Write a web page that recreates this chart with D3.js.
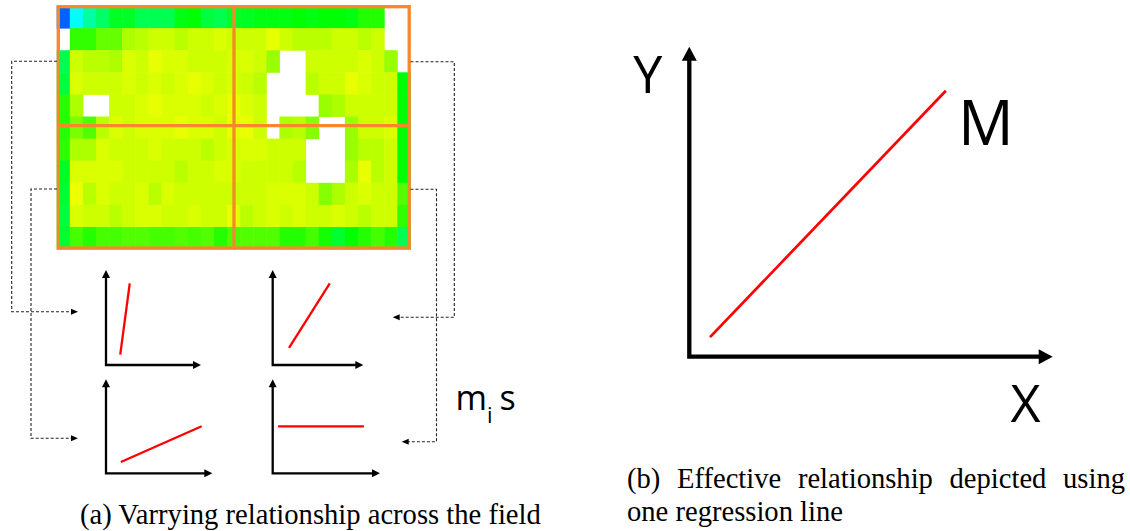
<!DOCTYPE html>
<html>
<head>
<meta charset="utf-8">
<script src="https://cdn.jsdelivr.net/npm/d3@7"></script>
<style>
  body { margin: 0; background: #fff; }
</style>
</head>
<body>
<svg id="fig" width="1130" height="531"></svg>
<script>
// Heatmap of local coefficients, one row per array (null = no data)
var row0  = [0, 2.4, 3.9, 4.8, 5.8, 5.8, 5.1, 5.1, 5.1, 6.1, 6.3, 5.4, 5.1, 5.8, 5.8, 6.1, 6.1, 6.1, 6.3, 6.1, 6.3, 6.3, 6.1, 6.9, 6.9, null, null];
var row1  = [null, 7.1, 7.1, 7.9, 7.9, 9.0, 9.2, 9.5, 9.5, 9.2, 9.5, 9.5, 9.7, 9.5, 9.5, 9.5, 9.9, 9.5, 9.2, 9.2, 9.2, 9.5, 9.5, 9.2, 9.5, null, null];
var row2  = [5.1, 9.5, 9.2, 9.2, 9.0, 9.7, 9.5, 9.9, 9.7, 9.7, 9.5, 9.5, 9.5, 9.7, 9.7, 9.5, 8.7, null, null, 9.5, 9.5, 9.5, 9.5, 9.7, 9.5, 8.7, null];
var row3  = [5.4, 9.7, 9.5, 9.5, 9.5, 9.7, 9.5, 9.7, 9.5, 9.7, 9.9, 9.7, 9.5, 9.7, 9.5, 9.2, null, null, null, 9.2, 9.5, 9.5, 9.9, 9.7, 9.5, 9.5, 6.3];
var row4  = [6.9, 9.0, null, null, 9.5, 9.5, 9.7, 9.9, 9.7, 9.7, 9.7, 9.5, 9.7, 10, 9.7, 9.5, null, null, null, null, 8.7, 9.0, 9.5, 9.5, 9.5, 9.5, 6.3];
var row5  = [6.9, 8.2, 7.6, 9.2, 9.7, 9.5, 9.7, 9.7, 9.7, 9.9, 9.7, 9.7, 9.5, 9.9, 9.9, 9.5, null, 9.0, 9.2, 8.4, null, null, 8.7, 9.5, 9.5, 9.7, 6.3];
var row6  = [7.0, 9.0, 9.0, 9.7, 9.5, 9.5, 9.5, 9.7, 9.5, 9.5, 9.5, 9.2, 9.5, 9.7, 9.7, 9.7, 9.5, 9.5, 9.5, null, null, null, 8.7, 9.2, 9.2, 9.5, 6.3];
var row7  = [5.8, 9.7, 9.7, 9.7, 9.7, 9.5, 9.5, 9.5, 9.5, 9.2, 9.5, 9.5, 9.7, 9.7, 9.5, 9.5, 9.5, 9.5, 9.2, null, null, null, 9.0, 9.9, 9.2, 9.5, 6.3];
var row8  = [5.6, 10, 9.2, 9.7, 9.5, 9.5, 9.7, 9.2, 9.7, 9.5, 9.5, 9.5, 9.5, 9.5, 9.5, 9.5, 9.7, 9.7, 9.7, 9.5, 8.4, 9.0, 9.5, 9.7, 9.5, 9.5, 7.6];
var row9  = [5.4, 9.7, 9.5, 9.5, 9.2, 9.5, 9.7, 9.7, 9.5, 9.5, 9.7, 9.5, 9.5, 9.9, 9.2, 9.5, 9.7, 9.5, 9.7, 9.5, 9.5, 9.7, 9.5, 9.2, 9.5, 9.5, 7.1];
var row10 = [5.6, 7.4, 6.9, 7.4, 7.4, 7.6, 7.6, 7.4, 7.4, 7.6, 7.4, 7.6, 6.9, 7.5, 7.6, 7.6, 7.6, 6.9, 6.9, 7.4, 6.6, 5.6, 6.3, 6.9, 7.4, 6.9, 5.1];
var heatRows = [row0, row1, row2, row3, row4, row5, row6, row7, row8, row9, row10];

// Local regression lines (start, end) in each small panel, domain 0..10
var localLines = [
  [[1.5, 1.1], [2.5, 8.6]],
  [[1.8, 1.8], [6.3, 8.6]],
  [[1.4, 1.2], [9.0, 5.0]],
  [[0.5, 5.0], [8.5, 5.0]]
];
// Single global regression line, domain 0..10
var globalLine = [[0.57, 0.63], [7.06, 8.58]];

var captionA = "(a) Varrying relationship across the field";
var captionB = ["(b) Effective relationship depicted using", "one regression line"];

var svg = d3.select("#fig");
var orange = "#f7872d";

// ---- heatmap ----
var hx = d3.scaleBand().domain(d3.range(27)).range([56.7, 410.4]);
var hy = d3.scaleBand().domain(d3.range(11)).range([6, 249.1]);
var hue = d3.scaleLinear().domain([0, 10]).range([217, 64]);

var cells = [];
heatRows.forEach(function(r, i) {
  r.forEach(function(v, j) { if (v != null) cells.push({r: i, c: j, v: v}); });
});

svg.append("g").selectAll("rect")
  .data(cells)
  .enter().append("rect")
    .attr("x", function(d) { return hx(d.c); })
    .attr("y", function(d) { return hy(d.r); })
    .attr("width", hx.bandwidth() + 0.5)
    .attr("height", hy.bandwidth() + 0.5)
    .attr("fill", function(d) { return d3.hsl(hue(d.v), 1, 0.5) + ""; });

// orange frame split in four quadrants
var frame = svg.append("g").attr("fill", "none").attr("stroke", orange).attr("stroke-width", 3.3);
frame.append("rect").attr("x", 58.3).attr("y", 6.7).attr("width", 350.9).attr("height", 241.3);
frame.append("line").attr("x1", 234).attr("x2", 234).attr("y1", 6.7).attr("y2", 248);
frame.append("line").attr("x1", 58.3).attr("x2", 409.2).attr("y1", 125.7).attr("y2", 125.7);

// ---- axes helper: L-shaped axes with filled arrow heads ----
function arrowAxes(g, ox, oy, xTip, yTip, sw, aLen, aWid) {
  g.append("path")
    .attr("d", "M" + ox + "," + (yTip + aLen - 1) + "L" + ox + "," + oy + "L" + (xTip - aLen + 1) + "," + oy)
    .attr("fill", "none")
    .attr("stroke", "#000")
    .attr("stroke-width", sw)
    .attr("stroke-linejoin", "miter")
    .attr("stroke-linecap", "square");
  g.append("path")
    .attr("d", "M" + ox + "," + yTip + "L" + (ox - aWid / 2) + "," + (yTip + aLen) + "L" + (ox + aWid / 2) + "," + (yTip + aLen) + "Z")
    .attr("fill", "#000");
  g.append("path")
    .attr("d", "M" + xTip + "," + oy + "L" + (xTip - aLen) + "," + (oy - aWid / 2) + "L" + (xTip - aLen) + "," + (oy + aWid / 2) + "Z")
    .attr("fill", "#000");
}

// ---- small panels ----
var panels = [
  {ox: 106, oy: 365, w: 95, h: 95},
  {ox: 272.7, oy: 365, w: 90.6, h: 95},
  {ox: 106, oy: 473.3, w: 106.3, h: 94},
  {ox: 272.7, oy: 473.3, w: 107.3, h: 94}
];

panels.forEach(function(p, i) {
  var g = svg.append("g");
  var x = d3.scaleLinear().domain([0, 10]).range([p.ox, p.ox + p.w]);
  var y = d3.scaleLinear().domain([0, 10]).range([p.oy, p.oy - p.h]);
  arrowAxes(g, p.ox, p.oy, p.ox + p.w, p.oy - p.h, 2.3, 8, 8);
  g.append("path")
    .datum(localLines[i])
    .attr("d", d3.line().x(function(d) { return x(d[0]); }).y(function(d) { return y(d[1]); }))
    .attr("stroke", "#ff0000")
    .attr("stroke-width", 2.3)
    .attr("fill", "none");
});

// ---- dashed connectors from heatmap quadrants to panels ----
var connectors = [
  [[57, 61.3], [11.7, 61.3], [11.7, 311.7], [78, 311.7]],
  [[57, 189], [31, 189], [31, 438.3], [78, 438.3]],
  [[410.5, 61.7], [454.3, 61.7], [454.3, 317.3], [392.7, 317.3]],
  [[410.5, 189.3], [436.5, 189.3], [436.5, 441.7], [401.7, 441.7]]
];
var conn = svg.append("g");
connectors.forEach(function(pts) {
  var tip = pts[pts.length - 1], prev = pts[pts.length - 2];
  var dir = tip[0] > prev[0] ? 1 : -1;
  var body = pts.slice(0, -1).concat([[tip[0] - dir * 6, tip[1]]]);
  conn.append("path")
    .attr("d", d3.line()(body))
    .attr("fill", "none")
    .attr("stroke", "#222")
    .attr("stroke-width", 1.1)
    .attr("stroke-dasharray", "3,2");
  conn.append("path")
    .attr("d", "M" + tip[0] + "," + tip[1] + "L" + (tip[0] - dir * 7) + "," + (tip[1] - 3) + "L" + (tip[0] - dir * 7) + "," + (tip[1] + 3) + "Z")
    .attr("fill", "#000");
});

// m_i s label
var ms = svg.append("text")
  .attr("x", 455.5)
  .attr("y", 410)
  .attr("font-family", "'Open Sans', sans-serif")
  .attr("font-size", 34)
  .attr("fill", "#000")
  .text("m");
ms.append("tspan").attr("dy", 13).attr("font-size", 22).text("i");
ms.append("tspan").attr("dy", -13).attr("dx", 7).text("s");

// ---- right panel: one regression line ----
var main = svg.append("g");
var mx = d3.scaleLinear().domain([0, 10]).range([689.3, 1052.7]);
var my = d3.scaleLinear().domain([0, 10]).range([356.7, 46.7]);
arrowAxes(main, mx(0), my(0), mx(10), my(10), 4.3, 14, 15);
main.append("path")
  .datum(globalLine)
  .attr("d", d3.line().x(function(d) { return mx(d[0]); }).y(function(d) { return my(d[1]); }))
  .attr("stroke", "#ff0000")
  .attr("stroke-width", 2.7)
  .attr("fill", "none");

var lab = main.append("g").attr("font-family", "'Open Sans', sans-serif").attr("fill", "#000");
lab.append("text").attr("x", 647.7).attr("y", 92.7).attr("font-size", 52).attr("text-anchor", "middle").text("Y");
lab.append("text").attr("x", 958).attr("y", 145).attr("font-size", 62).text("M");
lab.append("text").attr("x", 1025.4).attr("y", 421.7).attr("font-size", 52).attr("text-anchor", "middle").text("X");

// ---- captions ----
var cap = svg.append("g").attr("font-family", "'Liberation Serif', 'Times New Roman', serif").attr("font-size", 28.6).attr("fill", "#000");
cap.append("text").attr("x", 80).attr("y", 524).text(captionA);
var b1 = cap.append("text").attr("x", 627).attr("y", 488).text(captionB[0]);
// justify first line of (b) to the column width
var gap = (1125 - 627 - b1.node().getComputedTextLength()) / (captionB[0].split(" ").length - 1);
b1.attr("word-spacing", gap);
cap.append("text").attr("x", 627).attr("y", 521).text(captionB[1]);
</script>
</body>
</html>
